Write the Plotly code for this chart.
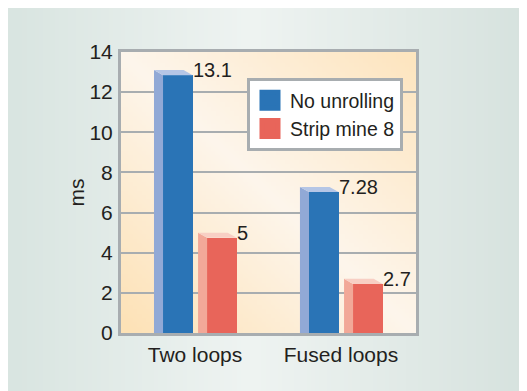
import base64, struct, zlib
import numpy as np
import plotly.graph_objects as go

# ---------------- data ----------------
categories = ["Two loops", "Fused loops"]
series_names = ["No unrolling", "Strip mine 8"]
no_unrolling = [13.1, 7.28]
strip_mine_8 = [5, 2.7]
value_labels_no_unrolling = ["13.1", "7.28"]
value_labels_strip_mine = ["5", "2.7"]
y_ticks = [0, 2, 4, 6, 8, 10, 12, 14]

# ---------------- style ----------------
FONT = "Liberation Sans, Arial, sans-serif"
TXT = "#231f20"
GRID = "#a8adb0"
front_colors = ["#2a74b6", "#e8655a"]
side_colors = ["#91a9d6", "#f2a898"]
top_colors = ["#b5c6e6", "#f8cfc4"]
W = 0.203      # bar face width (x units)
S = 0.062      # depth shift in x
D = 0.26       # depth shift in y
back_left = [-0.281, 0.021]   # left edge of each series' back face relative to category

FIG_W, FIG_H = 527, 391
OFF = 8  # page offset of the figure (body margin)
L = 121 - OFF
T = 52 - OFF
R = FIG_W - (416 - OFF)
B = FIG_H - (333 - OFF)
PW, PH = FIG_W - L - R, FIG_H - T - B


def png_uri(arr):
    arr = np.ascontiguousarray(arr.astype(np.uint8))
    h, w, _ = arr.shape
    raw = b"".join(b"\x00" + arr[i].tobytes() for i in range(h))

    def chunk(t, d):
        c = struct.pack(">I", len(d)) + t + d
        return c + struct.pack(">I", zlib.crc32(t + d) & 0xffffffff)
    png = b"\x89PNG\r\n\x1a\n" + chunk(b"IHDR", struct.pack(">IIBBBBB", w, h, 8, 2, 0, 0, 0)) \
        + chunk(b"IDAT", zlib.compress(raw, 9)) + chunk(b"IEND", b"")
    return "data:image/png;base64," + base64.b64encode(png).decode()


def hex2rgb(h):
    h = h.lstrip("#")
    return np.array([int(h[i:i + 2], 16) for i in (0, 2, 4)], dtype=float)


# page gradient (horizontal)
n = 128
xs = np.linspace(0, 1, n)
mid = 0.46
c0, c1, c2 = hex2rgb("#d9e5e1"), hex2rgb("#eff4f2"), hex2rgb("#d6e2de")
row = np.where(xs[:, None] < mid,
               c0 + (c1 - c0) * (xs[:, None] / mid),
               c1 + (c2 - c1) * ((xs[:, None] - mid) / (1 - mid)))
page_img = np.repeat(row[None, :, :], 4, axis=0)

# plot-area gradient (diagonal: bottom-left -> top-right)
m = 64
gx, gy = np.meshgrid(np.linspace(0, 1, m), np.linspace(1, 0, m))
s3 = ((gx + gy) / 2)[:, :, None]
p0, p1, p2 = hex2rgb("#fde2b6"), hex2rgb("#fdf6ec"), hex2rgb("#fde5bf")
plot_img = np.where(s3 < 0.5, p0 + (p1 - p0) * (s3 / 0.5), p1 + (p2 - p1) * ((s3 - 0.5) / 0.5))

fig = go.Figure()

series_vals = [no_unrolling, strip_mine_8]
series_labels = [value_labels_no_unrolling, value_labels_strip_mine]
xpos = list(range(len(categories)))

for si, vals in enumerate(series_vals):
    for ci, v in enumerate(vals):
        xb = xpos[ci] + back_left[si]
        # side face
        fig.add_trace(go.Scatter(
            x=[xb, xb, xb + S, xb + S, xb], y=[0, v, v - D, -D, 0],
            mode="lines", fill="toself", fillcolor=side_colors[si],
            line=dict(width=0, color=side_colors[si]), hoverinfo="skip",
            showlegend=False, cliponaxis=False))
        # top face
        fig.add_trace(go.Scatter(
            x=[xb, xb + W, xb + W + S, xb + S, xb], y=[v, v, v - D, v - D, v],
            mode="lines", fill="toself", fillcolor=top_colors[si],
            line=dict(width=0, color=top_colors[si]), hoverinfo="skip",
            showlegend=False, cliponaxis=False))
    # front faces
    fig.add_trace(go.Bar(
        x=xpos, y=vals, base=[-D] * len(vals), width=W, offset=back_left[si] + S,
        marker=dict(color=front_colors[si], line=dict(width=0)),
        name=series_names[si], showlegend=False, cliponaxis=False))
    # legend proxy
    fig.add_trace(go.Scatter(
        x=[None], y=[None], mode="markers", name=series_names[si],
        marker=dict(symbol="square", size=16, color=front_colors[si],
                    line=dict(width=5, color=front_colors[si]))))
    # value labels
    for ci, v in enumerate(vals):
        fig.add_annotation(
            x=xpos[ci] + back_left[si] + S + W, y=v, xref="x", yref="y",
            text=series_labels[si][ci], showarrow=False, xanchor="left", yanchor="middle",
            xshift=-2, font=dict(family=FONT, size=20, color=TXT))

# backgrounds
fig.add_layout_image(source=png_uri(page_img), xref="paper", yref="paper",
                     x=-L / PW, y=(FIG_H - B) / PH, sizex=FIG_W / PW,
                     sizey=FIG_H / PH, sizing="stretch", layer="below",
                     xanchor="left", yanchor="top")
fig.add_layout_image(source=png_uri(plot_img), xref="paper", yref="paper",
                     x=0, y=1, sizex=1, sizey=1, sizing="stretch", layer="below",
                     xanchor="left", yanchor="top")

fig.update_layout(
    width=FIG_W, height=FIG_H,
    margin=dict(l=L, r=R, t=T, b=B),
    paper_bgcolor="#e4ecea", plot_bgcolor="rgba(0,0,0,0)",
    font=dict(family=FONT, size=21, color=TXT),
    showlegend=True,
    legend=dict(x=(247 - 121) / PW, y=(333 - 78) / PH, xanchor="left", yanchor="top",
                bgcolor="white", bordercolor=GRID, borderwidth=3,
                font=dict(family=FONT, size=19.5, color=TXT), tracegroupgap=0,
                itemclick=False),
    xaxis=dict(range=[-0.507, 1.514], tickvals=xpos, ticktext=categories,
               showgrid=False, zeroline=False, showline=True, mirror=True,
               linecolor=GRID, linewidth=3, ticks="", ticklabelstandoff=1,
               layer="below traces", fixedrange=True),
    yaxis=dict(range=[0, 14], tickvals=y_ticks, showgrid=True, gridcolor=GRID,
               gridwidth=2, zeroline=False, showline=True, mirror=True,
               linecolor=GRID, linewidth=3, ticks="", ticklabelstandoff=1,
               title=dict(text="ms", standoff=0, font=dict(family=FONT, size=21, color=TXT)),
               layer="below traces", fixedrange=True),
    bargap=0, barmode="overlay",
)

fig.write_html("out.html")
